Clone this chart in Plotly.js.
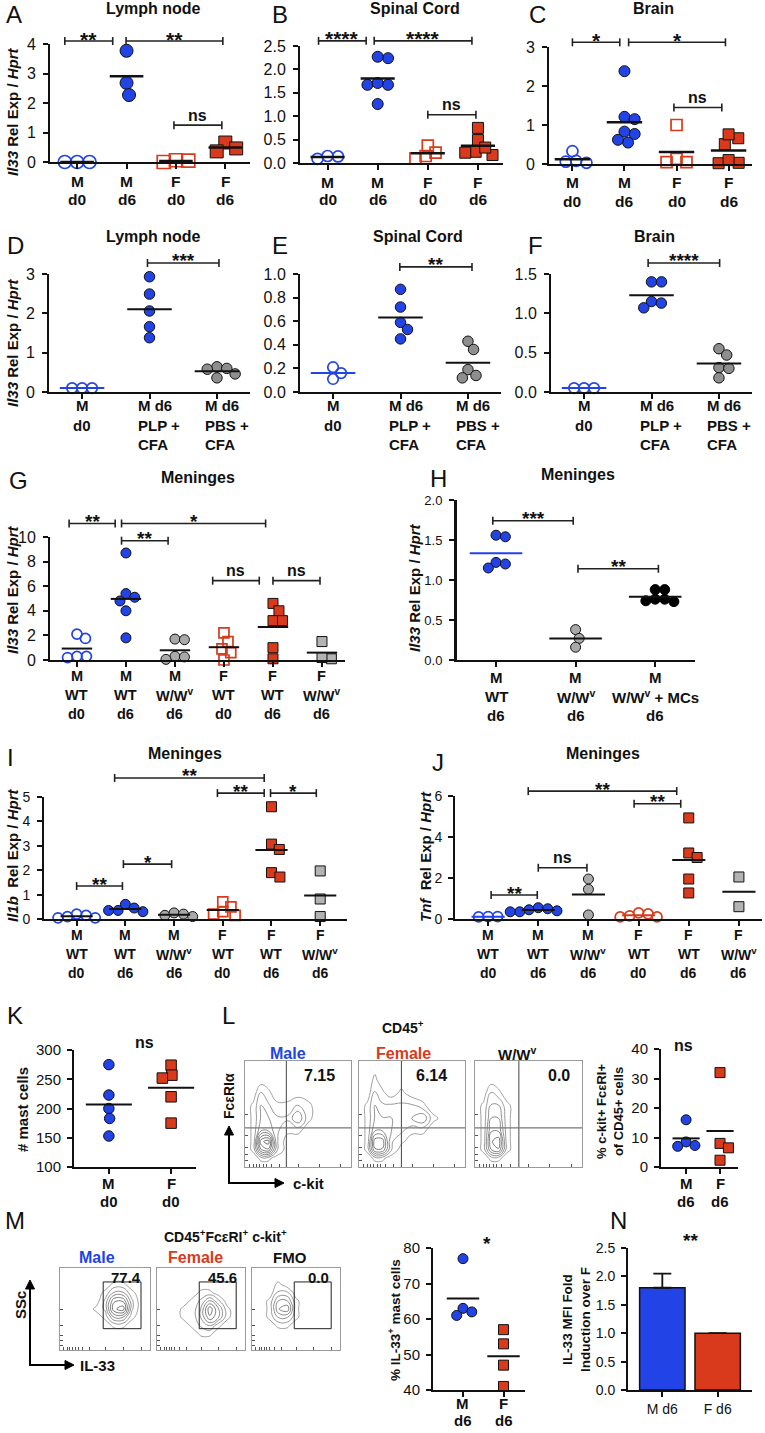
<!DOCTYPE html>
<html><head><meta charset="utf-8">
<script src="https://cdn.plot.ly/plotly-3.0.1.min.js"></script>
<style>body{margin:0;background:#fff}#chart{width:765px;height:1433px}</style>
</head><body><div id="chart"></div>
<script>
// ================= DATA =================
const catsMF  = [['M','d0'],['M','d6'],['F','d0'],['F','d6']];
const catsImm = [['M','d0'],['M d6','PLP +','CFA'],['M d6','PBS +','CFA']];
const catsMen = [['M','WT','d0'],['M','WT','d6'],['M','W/W<sup>v</sup>','d6'],['F','WT','d0'],['F','WT','d6'],['F','W/W<sup>v</sup>','d6']];
const catsH   = [['M','WT','d6'],['M','W/W<sup>v</sup>','d6'],['M','W/W<sup>v</sup> + MCs','d6']];
const catsK   = [['M','d0'],['F','d0']];
const catsD6  = [['M','d6'],['F','d6']];
const catsN   = ['M d6','F d6'];

// A Lymph node (Il33)
const lnM_d0=[0,0,0], lnM_d6=[3.77,2.68,2.27], lnF_d0=[0.06,0.0,0.05], lnF_d6=[0.66,0.36,0.46];
// B Spinal cord
const scM_d0=[0.15,0.09,0.14], scM_d6=[2.24,2.27,1.67,1.67,1.71,1.26], scF_d0=[0.22,0.10,0.15,0.37], scF_d6=[0.75,0.49,0.24,0.17,0.33,0.22];
// C Brain
const brM_d0=[0.08,0.03,0.33,0.06], brM_d6=[2.38,1.21,1.15,0.77,0.83,0.55,0.62], brF_d0=[1.0,0.13,0.05,0.05], brF_d6=[0.66,0.51,0.76,0.02,0.03,0.10];
// D Lymph node (immunisation)
const lnImmM_d0=[0.1,0.1,0.1], lnImmPLP=[2.93,2.49,2.06,1.66,1.38], lnImmPBS=[0.64,0.58,0.36,0.46,0.60];
// E Spinal cord (immunisation)
const scImmM_d0=[0.21,0.11,0.16], scImmPLP=[0.87,0.72,0.59,0.53,0.45], scImmPBS=[0.43,0.36,0.19,0.12,0.14];
// F Brain (immunisation)
const brImmM_d0=[0.05,0.05,0.05], brImmPLP=[1.40,1.40,1.15,1.07,1.13], brImmPBS=[0.55,0.47,0.31,0.30,0.18];
// G Meninges Il33
const gM_WT_d0=[2.1,1.75,0.3,0.2,0.3], gM_WT_d6=[8.7,4.8,5.4,5.1,4.0,1.8], gM_WW_d6=[1.7,1.65,0.3,0.05,0.25],
      gF_WT_d0=[2.2,1.5,0.9,0.6,0.0], gF_WT_d6=[4.6,4.0,3.2,3.2,1.0,0.1], gF_WW_d6=[1.5,0.1,0.2];
// H Meninges Il33, mast cell reconstitution
const hM_WT=[1.56,1.54,1.22,1.15,1.20], hM_WW=[0.38,0.27,0.16], hM_WW_MC=[0.88,0.88,0.76,0.73,0.74,0.76];
// I Meninges Il1b
const iM_WT_d0=[0.15,0.05,0.1,0.2,0.05], iM_WT_d6=[0.6,0.35,0.3,0.45,0.35], iM_WW_d6=[0.15,0.25,0.2,0.1],
      iF_WT_d0=[0.7,0.5,0.3,0.15,0.2], iF_WT_d6=[4.6,3.07,2.85,1.9,1.72], iF_WW_d6=[1.97,0.82,0.1];
// J Meninges Tnf
const jM_WT_d0=[0.12,0.1,0.12], jM_WT_d6=[0.55,0.45,0.35,0.5,0.35,0.4], jM_WW_d6=[1.95,1.45,0.2],
      jF_WT_d0=[0.1,0.25,0.3,0.1,0.15], jF_WT_d6=[4.93,3.22,3.0,1.95,1.27], jF_WW_d6=[2.05,0.6];
// K mast cell counts
const kM_d0=[275,223,200,183,153], kF_d0=[274,257,252,220,175];
// L % c-kit+ FceRI+ of CD45+
const lM_d6=[16,8.5,7,7.3], lF_d6=[32,8,6.5,2.3];
const lGateVals=['7.15','6.14','0.0'];
// M % IL-33+ mast cells
const mM_d6=[77,63,61,62], mF_d6=[57,53,47,41];
const mGateVals=['77.4','45.6','0.0'];
// N IL-33 MFI fold induction
const nFold=[1.8,1.0], nErr=[0.25,0];

// flow density grids
const flowGX=[0,0.08,0.15,0.22,0.3,0.4,0.5,0.6,0.7,0.85,1];
const flowGY=[0,0.08,0.16,0.24,0.34,0.46,0.58,0.7,0.82,1];
const flowMale=[
 [0,0,0,0,0,0,0,0,0,0,0],[0,0,1,1,0,0,0,0,0,0,0],[0,1,6,7,2,0,0,0,0,0,0],[0,1,8,9,2,0,0,0,0,0,0],
 [0,1,4,4,2,1,1,0,0,0,0],[0,1,3,3,2,2,4,1,0,0,0],[0,1,3,2,1,1,2,1,0,0,0],[0,0,2,1,0,0,0,0,0,0,0],
 [0,0,0,0,0,0,0,0,0,0,0],[0,0,0,0,0,0,0,0,0,0,0]];
const flowFemale=[
 [0,0,0,0,0,0,0,0,0,0,0],[0,0,1,1,0,0,0,0,0,0,0],[0,1,6,6,2,0,0,0,0,0,0],[0,1,7,7,2,1,0,0,0,0,0],
 [0,1,4,4,3,2,1,1,0,0,0],[0,1,3,3,3,2,3,4,1,0,0],[0,1,3,2,2,2,2,1,0,0,0],[0,0,2,1,0,1,0,0,0,0,0],
 [0,0,1,0,0,0,0,0,0,0,0],[0,0,0,0,0,0,0,0,0,0,0]];
const flowWW=[
 [0,0,0,0,0,0,0,0,0,0,0],[0,0,1,1,0,0,0,0,0,0,0],[0,1,5,6,1,0,0,0,0,0,0],[0,1,6,7,1,0,0,0,0,0,0],
 [0,1,5,5,1,0,0,0,0,0,0],[0,1,4,4,1,0,0,0,0,0,0],[0,1,3,3,1,0,0,0,0,0,0],[0,0,2,1,0,0,0,0,0,0,0],
 [0,0,0,0,0,0,0,0,0,0,0],[0,0,0,0,0,0,0,0,0,0,0]];
const ssGX=[0,0.1,0.2,0.3,0.4,0.5,0.6,0.7,0.8,0.9,1];
const ssGY=[0,0.1,0.2,0.3,0.4,0.5,0.6,0.7,0.8,0.9,1];
const ssMale=[
 [0,0,0,0,0,0,0,0,0,0,0],[0,0,0,0,0,0,0,0,0,0,0],[0,0,0,0,0,0,0,0,0,0,0],[0,0,0,0,0,0,1,1,0,0,0],
 [0,0,0,0,0,1,4,4,1,0,0],[0,0,0,0,1,2,7,8,2,0,0],[0,0,0,0,0,2,6,6,2,0,0],[0,0,0,0,0,1,3,3,1,0,0],
 [0,0,0,0,0,0,1,1,0,0,0],[0,0,0,0,0,0,0,0,0,0,0],[0,0,0,0,0,0,0,0,0,0,0]];
const ssFemale=[
 [0,0,0,0,0,0,0,0,0,0,0],[0,0,0,0,0,0,0,0,0,0,0],[0,0,0,0,0,1,1,0,0,0,0],[0,0,0,0,1,2,3,1,0,0,0],
 [0,0,0,1,1,3,6,4,1,0,0],[0,0,0,1,1,3,7,4,1,0,0],[0,0,0,0,1,2,4,2,0,0,0],[0,0,0,0,0,1,1,0,0,0,0],
 [0,0,0,0,0,0,0,0,0,0,0],[0,0,0,0,0,0,0,0,0,0,0],[0,0,0,0,0,0,0,0,0,0,0]];
const ssFMO=[
 [0,0,0,0,0,0,0,0,0,0,0],[0,0,0,0,0,0,0,0,0,0,0],[0,0,0,0,0,0,0,0,0,0,0],[0,0,0,1,1,0,0,0,0,0,0],
 [0,0,1,3,3,1,0,0,0,0,0],[0,0,1,5,6,1,0,0,0,0,0],[0,0,1,4,4,1,0,0,0,0,0],[0,0,0,2,2,0,0,0,0,0,0],
 [0,0,0,1,0,0,0,0,0,0,0],[0,0,0,0,0,0,0,0,0,0,0],[0,0,0,0,0,0,0,0,0,0,0]];

// ================= STYLE / HELPERS =================
const FONT='Liberation Sans, Arial, Helvetica, sans-serif';
const BLUE='#2243e6', RED='#d83a1b', GRAY='#a9a9a9', DGRAY='#8e8e8e';
const W=765, H=1433;
const data=[];
const layout={width:W,height:H,margin:{l:0,r:0,t:0,b:0},paper_bgcolor:'#fff',plot_bgcolor:'rgba(0,0,0,0)',
  showlegend:false,shapes:[],annotations:[],font:{family:FONT,color:'#111'}};
let axN=0;
function newAx(){axN++;return axN===1?'':String(axN);}
const fx=p=>p/W, fy=p=>1-p/H;
function line(x0,y0,x1,y1,color,w){layout.shapes.push({type:'line',xref:'paper',yref:'paper',x0:fx(x0),y0:fy(y0),x1:fx(x1),y1:fy(y1),line:{color:color||'#111',width:w||1.5}});}
function rect(x0,y0,x1,y1,color,w){layout.shapes.push({type:'rect',xref:'paper',yref:'paper',x0:fx(x0),y0:fy(y0),x1:fx(x1),y1:fy(y1),line:{color:color||'#111',width:w||1},fillcolor:'rgba(0,0,0,0)'});}
function tri(pts){layout.shapes.push({type:'path',xref:'paper',yref:'paper',
  path:'M '+pts.map(p=>fx(p[0])+' '+fy(p[1])).join(' L ')+' Z',fillcolor:'#000',line:{color:'#000',width:1}});}
function txt(t,x,y,o){o=o||{};layout.annotations.push(Object.assign({xref:'paper',yref:'paper',x:fx(x),y:fy(y),text:t,showarrow:false,
  xanchor:'center',yanchor:'middle',font:{family:FONT,size:o.size||15,color:o.color||'#111'}},o.extra||{}));}
// L-shaped axis arrows: vertical (x, from yTail up to yTip) and horizontal (y, from xTail right to xTip)
function axisArrows(x,yTail,yTip,xTip){
  line(x,yTail,x,yTip+7,'#000',2); tri([[x-4.5,yTip+9],[x,yTip],[x+4.5,yTip+9]]);
  line(x-1,yTail,xTip-7,yTail,'#000',2); tri([[xTip-9,yTail-4.5],[xTip,yTail],[xTip-9,yTail+4.5]]);
}

const ST={
  mo:{symbol:'circle-open',color:BLUE,lw:1.7},
  mf:{symbol:'circle',color:BLUE,line:'#111',lw:1},
  fo:{symbol:'square-open',color:RED,lw:1.7},
  foc:{symbol:'circle-open',color:RED,lw:1.7},
  ff:{symbol:'square',color:RED,line:'#111',lw:1},
  gc:{symbol:'circle',color:GRAY,line:'#111',lw:1},
  gdc:{symbol:'circle',color:DGRAY,line:'#111',lw:1},
  gs:{symbol:'square',color:'#b3b3b3',line:'#111',lw:1},
  kc:{symbol:'circle',color:'#000',line:'#000',lw:1}
};

function swarm(vals,d,pxX,pxY){
  const idx=vals.map((v,i)=>i).sort((a,b)=>vals[b]-vals[a]);
  const placed=[], offs=new Array(vals.length);
  for(const i of idx){
    const y=vals[i]*pxY; const cands=[0];
    for(const p of placed){const dy=Math.abs(p.y-y); if(dy<d){const dx=Math.sqrt(d*d-dy*dy); cands.push(p.x+dx,p.x-dx);}}
    cands.sort((a,b)=>Math.abs(a)-Math.abs(b));
    let ch=cands[cands.length-1];
    for(const c of cands){ if(placed.every(p=>Math.hypot(p.x-c,p.y-y)>=d-0.01)){ch=c;break;} }
    placed.push({x:ch,y}); offs[i]=ch/pxX;
  }
  return offs;
}

function axBase(){return {showline:true,linecolor:'#111',linewidth:2,ticks:'outside',ticklen:5,tickwidth:2,tickcolor:'#111',
  showgrid:false,zeroline:false,fixedrange:true};}

function panel(p){
  const s=newAx();
  const [x0,x1,yT,yB]=p.dom, xr=p.xr, yr=p.yr;
  const X=u=>x0+(u-xr[0])/(xr[1]-xr[0])*(x1-x0);
  const Y=v=>yB-(v-yr[0])/(yr[1]-yr[0])*(yB-yT);
  const pxX=(x1-x0)/(xr[1]-xr[0]), pxY=(yB-yT)/(yr[1]-yr[0]);
  layout['xaxis'+s]=Object.assign(axBase(),{domain:[fx(x0),fx(x1)],range:xr,anchor:'y'+s,
    tickvals:p.cats.map((c,i)=>i),showticklabels:false});
  layout['yaxis'+s]=Object.assign(axBase(),{domain:[fy(yB),fy(yT)],range:yr,anchor:'x'+s,
    tickvals:p.yt,tickformat:p.yfmt||'',ticklabelstandoff:p.ysd==null?4:p.ysd,linewidth:p.ylw||2,
    tickfont:{family:FONT,size:p.yfs||16,color:'#111'}});
  const ms=p.ms||10, hw=p.hw||0.33;
  p.groups.forEach((g,i)=>{
    const offs=swarm(g.v,ms*0.95,pxX,pxY);
    const st=g.s;
    const mk={symbol:st.symbol,size:ms,color:st.color,line:{width:st.lw,color:st.line||st.color}};
    data.push({type:'scatter',mode:'markers',xaxis:'x'+s,yaxis:'y'+s,x:g.v.map((v,k)=>i+offs[k]),y:g.v,
      cliponaxis:false,marker:mk,hoverinfo:'skip'});
    const m=g.v.reduce((a,b)=>a+b,0)/g.v.length;
    line(X(i-hw),Y(m),X(i+hw),Y(m),g.mc||'#111',p.mw||2);
  });
  const xl=p.xl;
  p.cats.forEach((c,i)=>{
    const left = xl.left && c.length>2;
    c.forEach((t,k)=>{
      txt('<b>'+t+'</b>', left? X(i)-xl.left : X(i), yB+xl.off+k*xl.sp,
        {size:xl.fs, extra: left?{xanchor:'left'}:{}});
    });
  });
  (p.sig||[]).forEach(q=>{
    const [a,b,v,t]=q; const y=Y(v);
    line(X(a),y,X(b),y,'#222',1.6); line(X(a),y-4,X(a),y+4,'#222',1.6); line(X(b),y-4,X(b),y+4,'#222',1.6);
    if(t==='ns') txt('<b>ns</b>',(X(a)+X(b))/2,y-10,{size:p.nsfs||16});
    else txt('<b>'+t+'</b>',(X(a)+X(b))/2,y-2,{size:p.stfs||19});
  });
  if(p.title) txt('<b>'+p.title[0]+'</b>',p.title[1],p.title[2],{size:p.title[3]||16});
  if(p.letter) txt(p.letter[0],p.letter[1],p.letter[2],{size:24});
  if(p.ytitle) txt(p.ytitle[0],p.ytitle[1],p.ytitle[2],{size:p.ytitle[3]||15,extra:{textangle:-90}});
  return {X,Y,s};
}

const IL33='<b><i>Il33</i> Rel Exp / <i>Hprt</i></b>';
const xlABC={fs:15.5,off:19,sp:18};
const xlDEF={fs:15,off:13.5,sp:19.5,left:14};
const xlMen={fs:14.5,off:16,sp:19};

// ---------- Row 1 ----------
panel({dom:[50,250,44,162],xr:[-0.55,3.5],yr:[0,4],yt:[0,1,2,3,4],cats:catsMF,ms:13,hw:0.34,mw:2.5,xl:xlABC,stfs:21,
  groups:[{v:lnM_d0,s:ST.mo},{v:lnM_d6,s:ST.mf},{v:lnF_d0,s:ST.fo},{v:lnF_d6,s:ST.ff}],
  sig:[[-0.25,0.72,4.1,'**'],[0.99,2.95,4.1,'**'],[1.96,2.93,1.25,'ns']],
  title:['Lymph node',153,9],letter:['A',14,15],ytitle:[IL33,12,112]});
panel({dom:[300,503,46,163],xr:[-0.55,3.5],yr:[0,2.5],yt:[0,0.5,1,1.5,2,2.5],yfmt:'.1f',cats:catsMF,ms:11,hw:0.34,mw:2.5,xl:xlABC,stfs:21,
  groups:[{v:scM_d0,s:ST.mo},{v:scM_d6,s:ST.mf},{v:scF_d0,s:ST.fo},{v:scF_d6,s:ST.ff}],
  sig:[[-0.18,0.77,2.61,'****'],[0.93,2.88,2.61,'****'],[2.0,2.96,1.03,'ns']],
  title:['Spinal Cord',415,9],letter:['B',280,15]});
panel({dom:[549,752,47,164],xr:[-0.45,3.45],yr:[0,3],yt:[0,1,2,3],cats:catsMF,ms:11,hw:0.34,mw:2.5,xl:xlABC,stfs:21,
  groups:[{v:brM_d0,s:ST.mo},{v:brM_d6,s:ST.mf},{v:brF_d0,s:ST.fo},{v:brF_d6,s:ST.ff}],
  sig:[[0,0.91,3.12,'*'],[1.08,2.94,3.12,'*'],[1.95,2.87,1.45,'ns']],
  title:['Brain',653,9],letter:['C',537,15]});

// ---------- Row 2 ----------
panel({dom:[49,250,274,392],xr:[-0.49,2.49],yr:[0,3],yt:[0,1,2,3],cats:catsImm,ms:10.5,xl:xlDEF,
  groups:[{v:lnImmM_d0,s:ST.mo,mc:BLUE},{v:lnImmPLP,s:ST.mf},{v:lnImmPBS,s:ST.gdc}],
  sig:[[0.97,2.03,3.28,'***']],title:['Lymph node',153,236],letter:['D',15,245],ytitle:[IL33,12,343]});
panel({dom:[300,501,274,392],xr:[-0.49,2.49],yr:[0,1],yt:[0,0.2,0.4,0.6,0.8,1],yfmt:'.1f',cats:catsImm,ms:10.5,xl:xlDEF,
  groups:[{v:scImmM_d0,s:ST.mo,mc:BLUE},{v:scImmPLP,s:ST.mf},{v:scImmPBS,s:ST.gdc}],
  sig:[[0.99,2.06,1.06,'**']],title:['Spinal Cord',418,236],letter:['E',280,245]});
panel({dom:[551,752,274,392],xr:[-0.49,2.49],yr:[0,1.5],yt:[0,0.5,1,1.5],yfmt:'.1f',cats:catsImm,ms:10.5,xl:xlDEF,
  groups:[{v:brImmM_d0,s:ST.mo,mc:BLUE},{v:brImmPLP,s:ST.mf},{v:brImmPBS,s:ST.gdc}],
  sig:[[0.95,2.01,1.64,'****']],title:['Brain',654,236],letter:['F',535,245]});

// ---------- Row 3 ----------
panel({dom:[50,345,537,660],xr:[-0.55,5.47],yr:[0,10],yt:[0,2,4,6,8,10],cats:catsMen,ms:10,hw:0.31,xl:xlMen,
  groups:[{v:gM_WT_d0,s:ST.mo},{v:gM_WT_d6,s:ST.mf},{v:gM_WW_d6,s:ST.gc},{v:gF_WT_d0,s:ST.fo},{v:gF_WT_d6,s:ST.ff},{v:gF_WW_d6,s:ST.gs}],
  sig:[[-0.16,0.78,11.1,'**'],[0.91,3.85,11.1,'*'],[0.91,1.86,9.7,'**'],[2.77,3.72,6.45,'ns'],[4.0,4.96,6.45,'ns']],
  title:['Meninges',198,477],letter:['G',18,480],ytitle:[IL33,12,590]});
panel({dom:[457,695,500,660],xr:[-0.49,2.5],yr:[0,2],yt:[0,0.5,1,1.5,2],yfmt:'.1f',yfs:13,ylw:3,cats:catsH,ms:10,xl:{fs:15,off:17,sp:19},
  groups:[{v:hM_WT,s:ST.mf,mc:BLUE},{v:hM_WW,s:ST.gc},{v:hM_WW_MC,s:ST.kc}],
  sig:[[-0.04,0.97,1.74,'***'],[1.03,2.04,1.14,'**']],
  title:['Meninges',578,475],letter:['H',438,478],ytitle:[IL33,414,588]});

// ---------- Row 4 ----------
panel({dom:[44,347,797,919],xr:[-0.67,5.55],yr:[0,5],yt:[0,1,2,3,4,5],yfs:14,cats:catsMen,ms:10,xl:{fs:14,off:16,sp:19},
  groups:[{v:iM_WT_d0,s:ST.mo},{v:iM_WT_d6,s:ST.mf},{v:iM_WW_d6,s:ST.gc},{v:iF_WT_d0,s:ST.fo},{v:iF_WT_d6,s:ST.ff},{v:iF_WW_d6,s:ST.gs}],
  sig:[[0,0.94,1.35,'**'],[0.96,1.95,2.25,'*'],[0.78,3.85,5.78,'**'],[2.89,3.85,5.16,'**'],[3.98,4.92,5.16,'*']],
  title:['Meninges',185,753],letter:['I',10,758],ytitle:['<b><i>Il1b</i>  Rel Exp / <i>Hprt</i></b>',12,855]});
panel({dom:[455,762,796,919],xr:[-0.66,5.46],yr:[0,6],yt:[0,2,4,6],yfs:14,ysd:3,cats:catsMen,ms:10,xl:{fs:14,off:16,sp:19},
  groups:[{v:jM_WT_d0,s:ST.mo,mc:BLUE},{v:jM_WT_d6,s:ST.mf},{v:jM_WW_d6,s:ST.gc},{v:jF_WT_d0,s:ST.foc,mc:RED},{v:jF_WT_d6,s:ST.ff},{v:jF_WW_d6,s:ST.gs}],
  sig:[[0.06,0.98,1.17,'**'],[1.0,1.97,2.5,'ns'],[0.8,3.76,6.24,'**'],[2.91,3.84,5.62,'**']],
  title:['Meninges',603,753],letter:['J',438,762],ytitle:['<b><i>Tnf</i>  Rel Exp / <i>Hprt</i></b>',425,857]});

// ---------- Row 5 ----------
panel({dom:[74,196,1050,1167],xr:[-0.56,1.4],yr:[100,300],yt:[100,150,200,250,300],yfs:15,ysd:3,cats:catsK,ms:10.5,hw:0.37,xl:{fs:15,off:16,sp:18},
  groups:[{v:kM_d0,s:ST.mf},{v:kF_d0,s:ST.ff}],letter:['K',15,1015],ytitle:['<b># mast cells</b>',22,1110]});
txt('<b>ns</b>',144,1042,{size:16});
panel({dom:[661,738,1049,1167],xr:[-0.74,1.53],yr:[0,40],yt:[0,10,20,30,40],yfs:15,ysd:3,cats:catsD6,ms:10,hw:0.4,xl:{fs:15,off:16,sp:18},
  groups:[{v:lM_d6,s:ST.mf},{v:lF_d6,s:ST.ff}],ytitle:['<b>% c-kit+ FcεRI+<br>of CD45+ cells</b>',610,1112,13]});
txt('<b>ns</b>',683,1045,{size:16});
txt('L',228,1015,{size:24});

function flow(b,z,gx,gy){
  const s=newAx();
  layout['xaxis'+s]={domain:[fx(b[0]),fx(b[1])],range:[0,1],anchor:'y'+s,showline:true,mirror:true,linecolor:'#9a9a9a',linewidth:1,
    showgrid:false,zeroline:false,showticklabels:false,ticks:'inside',ticklen:3,tickcolor:'#555',
    tickvals:[0.04,0.08,0.11,0.14,0.17,0.2,0.25,0.33,0.5,0.7,0.9],fixedrange:true};
  layout['yaxis'+s]={domain:[fy(b[3]),fy(b[2])],range:[0,1],anchor:'x'+s,showline:true,mirror:true,linecolor:'#9a9a9a',linewidth:1,
    showgrid:false,zeroline:false,showticklabels:false,ticks:'inside',ticklen:3,tickcolor:'#555',
    tickvals:[0.06,0.12,0.18,0.3,0.5],fixedrange:true};
  data.push({type:'contour',x:gx,y:gy,z:z,xaxis:'x'+s,yaxis:'y'+s,showscale:false,hoverinfo:'skip',
    contours:{coloring:'lines',start:0.7,end:9.5,size:1.1},line:{width:0.8,smoothing:1.3},
    colorscale:[[0,'#8a8a8a'],[1,'#3a3a3a']]});
}
// L flow plots
const lBoxes=[[245,351,1061,1167],[359,465,1061,1167],[475,582,1061,1167]];
const lQx=[0.39,0.40,0.41], lQy=0.37;
[flowMale,flowFemale,flowWW].forEach((z,i)=>{
  const b=lBoxes[i]; flow(b,z,flowGX,flowGY);
  const vx=b[0]+lQx[i]*(b[1]-b[0]), hy=b[3]-lQy*(b[3]-b[2]);
  line(vx,b[2],vx,b[3],'#444',1); line(b[0],hy,b[1],hy,'#777',1.3);
  txt('<b>'+lGateVals[i]+'</b>',[319,431,559][i],1075,{size:16});
});
txt('<b>CD45<sup>+</sup></b>',403,1027,{size:14});
txt('<b>Male</b>',288,1053,{size:16,color:BLUE});
txt('<b>Female</b>',403,1053,{size:16,color:RED});
txt('<b>W/W<sup>v</sup></b>',517,1053,{size:15});
axisArrows(229,1183,1126,284);
txt('<b>FcεRIα</b>',229,1096,{size:14,extra:{textangle:-90}});
txt('<b>c-kit</b>',308,1183,{size:15});

// ---------- Row 6 ----------
txt('M',15,1220,{size:24});
txt('<b>CD45<sup>+</sup>FcεRI<sup>+</sup> c-kit<sup>+</sup></b>',225,1236,{size:14});
const mBoxes=[[60,150,1268,1350],[157,245,1268,1350],[252,340,1268,1350]];
[ssMale,ssFemale,ssFMO].forEach((z,i)=>{
  const b=mBoxes[i]; flow(b,z,ssGX,ssGY);
  const gx0=b[0]+0.48*(b[1]-b[0]), gx1=b[0]+0.9*(b[1]-b[0]);
  rect(gx0,b[2]+0.17*(b[3]-b[2]),gx1,b[2]+0.74*(b[3]-b[2]),'#222',1);
  txt('<b>'+mGateVals[i]+'</b>',[126,222,318][i],1277,{size:15});
});
txt('<b>Male</b>',97,1257,{size:16,color:BLUE});
txt('<b>Female</b>',195,1257,{size:16,color:RED});
txt('<b>FMO</b>',290,1257,{size:15});
axisArrows(30,1365,1280,74);
txt('<b>SSc</b>',20,1305,{size:15,extra:{textangle:-90}});
txt('<b>IL-33</b>',98,1365,{size:15});

panel({dom:[433,525,1248,1390],xr:[-0.74,1.53],yr:[40,80],yt:[40,50,60,70,80],yfs:15,ysd:3,cats:catsD6,ms:10,hw:0.4,xl:{fs:15,off:13,sp:17},
  groups:[{v:mM_d6,s:ST.mf},{v:mF_d6,s:ST.ff}],ytitle:['<b>% IL-33<sup>+</sup> mast cells</b>',394,1320,13.5]});
txt('<b>*</b>',487,1243,{size:19});

// N bar chart
(function(){
  const s=newAx(); const b=[628,752,1248,1390];
  layout['xaxis'+s]=Object.assign(axBase(),{domain:[fx(b[0]),fx(b[1])],range:[-0.62,1.62],anchor:'y'+s,
    tickvals:[0,1],ticktext:catsN,tickfont:{family:FONT,size:14,color:'#111'}});
  layout['yaxis'+s]=Object.assign(axBase(),{domain:[fy(b[3]),fy(b[2])],range:[0,2.5],anchor:'x'+s,
    tickvals:[0,0.5,1,1.5,2,2.5],tickformat:'.1f',ticklabelstandoff:3,tickfont:{family:FONT,size:14,color:'#111'}});
  data.push({type:'bar',x:[0,1],y:nFold,xaxis:'x'+s,yaxis:'y'+s,width:0.82,
    marker:{color:[BLUE,RED],line:{color:'#111',width:1.5}},
    error_y:{type:'data',symmetric:false,array:nErr,arrayminus:[0,0],color:'#111',thickness:1.8,width:9},hoverinfo:'skip'});
  txt('N',618,1220,{size:24});
  txt('<b>**</b>',690,1240,{size:19});
  txt('<b>IL-33 MFI Fold<br>Induction over F</b>',576,1320,{size:13.5,extra:{textangle:-90}});
})();

Plotly.newPlot('chart',data,layout,{staticPlot:true,displayModeBar:false});
</script></body></html>
